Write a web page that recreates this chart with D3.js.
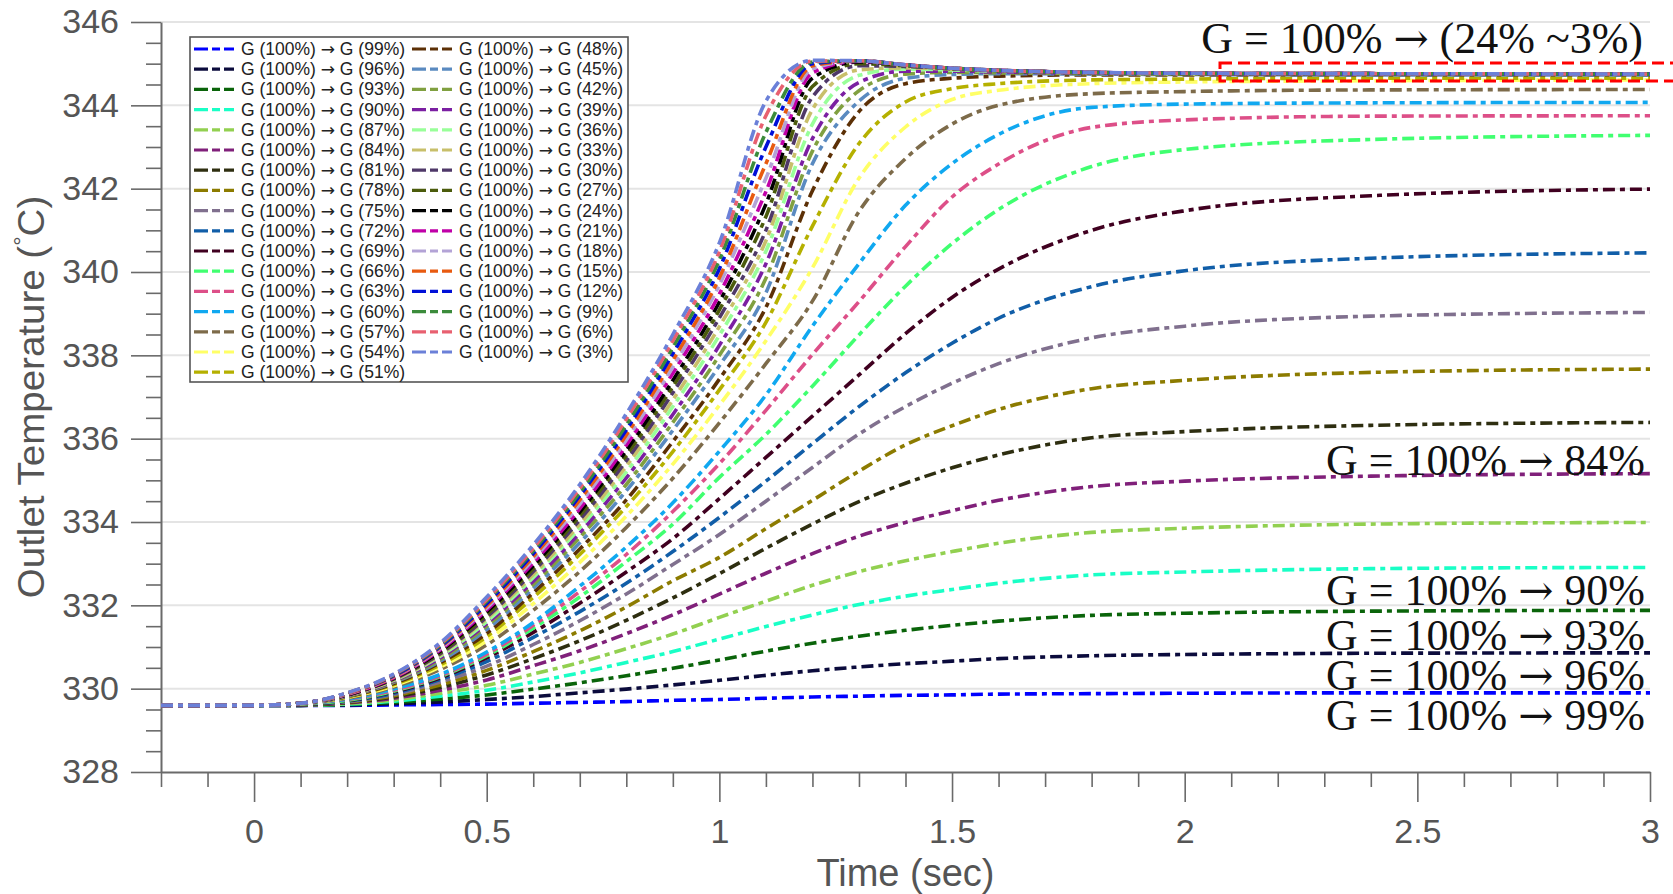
<!DOCTYPE html>
<html>
<head>
<meta charset="utf-8">
<script src="https://cdn.jsdelivr.net/npm/d3@7"></script>
<style>
  html, body { margin: 0; padding: 0; background: #fff; }
  svg { display: block; }
</style>
</head>
<body>
<svg id="chart" width="1673" height="894"></svg>
<script>
// ---- data -------------------------------------------------------------
const time = [-0.2, 0, 0.1, 0.2, 0.3, 0.4, 0.5, 0.6, 0.7, 0.8, 0.9, 1.0, 1.1, 1.2, 1.3, 1.4, 1.5, 1.6, 1.8, 2.0, 2.4, 3.0];

const g99 = [329.6,329.6,329.6,329.6,329.61,329.62,329.63,329.65,329.67,329.69,329.72,329.74,329.77,329.8,329.82,329.84,329.85,329.87,329.88,329.89,329.9,329.9];
const g96 = [329.6,329.6,329.6,329.61,329.64,329.68,329.74,329.81,329.9,329.99,330.09,330.2,330.32,330.43,330.52,330.6,330.66,330.72,330.79,330.82,330.85,330.86];
const g93 = [329.6,329.6,329.6,329.62,329.67,329.75,329.85,329.99,330.14,330.31,330.49,330.69,330.9,331.09,331.26,331.4,331.52,331.62,331.76,331.81,331.86,331.88];
const g90 = [329.6,329.6,329.61,329.63,329.7,329.82,329.96,330.16,330.38,330.63,330.89,331.19,331.49,331.77,332.02,332.22,332.38,332.53,332.73,332.8,332.88,332.91];
const g87 = [329.6,329.6,329.61,329.64,329.73,329.89,330.08,330.35,330.63,330.96,331.31,331.71,332.1,332.48,332.81,333.07,333.29,333.49,333.75,333.85,333.95,333.99];
const g84 = [329.6,329.6,329.61,329.66,329.77,329.96,330.21,330.55,330.91,331.32,331.77,332.27,332.77,333.24,333.66,333.99,334.27,334.52,334.85,334.98,335.1,335.16];
const g81 = [329.6,329.6,329.61,329.67,329.8,330.03,330.33,330.72,331.15,331.64,332.18,332.76,333.37,333.95,334.49,334.93,335.3,335.61,336.02,336.17,336.32,336.39];
const g78 = [329.6,329.6,329.62,329.68,329.83,330.09,330.44,330.89,331.39,331.96,332.59,333.15,333.84,334.52,335.22,335.85,336.31,336.7,337.2,337.4,337.59,337.67];
const g75 = [329.6,329.6,329.62,329.69,329.86,330.16,330.54,331.06,331.63,332.27,332.98,333.7,334.5,335.31,336.11,336.77,337.33,337.8,338.42,338.7,338.94,339.03];
const g72 = [329.6,329.6,329.62,329.7,329.89,330.22,330.65,331.23,331.85,332.53,333.29,334.11,334.98,335.88,336.77,337.58,338.29,338.89,339.65,340.03,340.33,340.46];
const g69 = [329.6,329.6,329.62,329.71,329.92,330.26,330.74,331.35,332.05,332.8,333.6,334.56,335.55,336.54,337.53,338.52,339.39,340.07,341.0,341.47,341.83,341.99];
const g66 = [329.6,329.6,329.63,329.72,329.94,330.29,330.79,331.45,332.2,333.05,333.95,335.07,336.1,337.26,338.49,339.66,340.68,341.5,342.53,342.94,343.18,343.28];
const g63 = [329.6,329.6,329.64,329.74,329.96,330.31,330.83,331.52,332.33,333.22,334.25,335.4,336.68,338.02,339.29,340.61,341.8,342.59,343.47,343.65,343.74,343.75];
const g60 = [329.6,329.6,329.64,329.75,329.99,330.34,330.88,331.59,332.46,333.4,334.46,335.7,337.05,338.7,340.2,341.6,342.6,343.3,343.95,344.03,344.06,344.07];
const g57 = [329.6,329.6,329.64,329.77,330.04,330.46,331.05,331.88,332.81,333.87,335.05,336.38,337.8,339.3,341.45,342.72,343.55,344.0,344.28,344.33,344.37,344.38];
const g54 = [329.6,329.6,329.64,329.79,330.07,330.52,331.15,332.04,333.03,334.14,335.39,336.8,338.35,340.1,342.25,343.48,344.14,344.36,344.52,344.56,344.59,344.61];
const g51 = [329.6,329.6,329.64,329.8,330.1,330.57,331.25,332.19,333.22,334.37,335.69,337.17,338.79,341.1,343.08,344.08,344.4,344.52,344.61,344.63,344.65,344.65];
const g48 = [329.6,329.6,329.64,329.81,330.12,330.62,331.33,332.3,333.35,334.53,335.93,337.43,339.15,341.95,343.85,344.52,344.65,344.7,344.73,344.73,344.73,344.73];
const g45 = [329.6,329.6,329.64,329.82,330.15,330.66,331.42,332.41,333.5,334.75,336.2,337.75,339.5,342.6,344.1,344.65,344.74,344.76,344.75,344.74,344.73,344.73];
const g42 = [329.6,329.6,329.64,329.82,330.16,330.7,331.5,332.5,333.63,334.9,336.39,338.0,339.85,342.9,344.35,344.75,344.79,344.78,344.76,344.75,344.74,344.74];
const g39 = [329.6,329.6,329.64,329.83,330.18,330.74,331.56,332.58,333.74,335.06,336.58,338.24,340.2,343.2,344.55,344.82,344.82,344.8,344.77,344.76,344.75,344.75];
const g36 = [329.6,329.6,329.64,329.84,330.2,330.78,331.61,332.67,333.86,335.2,336.77,338.48,340.5,343.55,344.72,344.87,344.85,344.82,344.78,344.76,344.75,344.75];
const g33 = [329.6,329.6,329.65,329.84,330.21,330.81,331.68,332.74,333.95,335.34,336.93,338.69,340.75,343.9,344.85,344.9,344.87,344.83,344.78,344.76,344.75,344.75];
const g30 = [329.6,329.6,329.65,329.85,330.23,330.84,331.72,332.81,334.05,335.47,337.1,338.9,341.0,344.2,344.95,344.93,344.88,344.83,344.78,344.76,344.75,344.75];
const g27 = [329.6,329.6,329.65,329.85,330.24,330.87,331.78,332.88,334.15,335.6,337.25,339.09,341.33,344.45,345.0,344.95,344.88,344.83,344.78,344.76,344.75,344.75];
const g24 = [329.6,329.6,329.65,329.85,330.25,330.9,331.84,332.95,334.24,335.72,337.4,339.28,341.63,344.65,345.04,344.97,344.89,344.84,344.79,344.77,344.76,344.75];
const g21 = [329.6,329.6,329.65,329.86,330.26,330.93,331.89,333.02,334.32,335.84,337.57,339.47,341.93,344.78,345.06,344.97,344.89,344.84,344.79,344.77,344.76,344.75];
const g18 = [329.6,329.6,329.65,329.87,330.28,330.96,331.94,333.1,334.43,335.97,337.72,339.69,342.25,344.88,345.07,344.97,344.89,344.84,344.79,344.77,344.76,344.75];
const g15 = [329.6,329.6,329.65,329.88,330.29,330.99,331.99,333.17,334.53,336.09,337.88,339.86,342.6,344.95,345.07,344.97,344.89,344.84,344.79,344.77,344.76,344.75];
const g12 = [329.6,329.6,329.65,329.89,330.31,331.01,332.04,333.24,334.63,336.21,338.04,340.08,343.0,345.0,345.07,344.97,344.89,344.84,344.79,344.77,344.76,344.75];
const g9  = [329.6,329.6,329.65,329.89,330.33,331.04,332.1,333.31,334.71,336.33,338.19,340.29,343.35,345.04,345.07,344.97,344.89,344.84,344.79,344.77,344.76,344.75];
const g6  = [329.6,329.6,329.65,329.89,330.34,331.07,332.14,333.37,334.81,336.47,338.35,340.49,343.75,345.06,345.07,344.97,344.89,344.84,344.79,344.77,344.76,344.75];
const g3  = [329.6,329.6,329.65,329.9,330.35,331.1,332.2,333.45,334.9,336.6,338.5,340.7,344.1,345.08,345.07,344.97,344.89,344.84,344.79,344.77,344.76,344.75];

const flowLevels = [99, 96, 93, 90, 87, 84, 81, 78, 75, 72, 69, 66, 63, 60, 57, 54, 51,
                    48, 45, 42, 39, 36, 33, 30, 27, 24, 21, 18, 15, 12, 9, 6, 3];
const seriesValues = [g99, g96, g93, g90, g87, g84, g81, g78, g75, g72, g69, g66, g63, g60, g57, g54, g51,
                      g48, g45, g42, g39, g36, g33, g30, g27, g24, g21, g18, g15, g12, g9, g6, g3];
const seriesColors = ["#0000ff", "#0b0b3c", "#0a640a", "#19ffc6", "#92d050", "#80207a", "#2e2e10", "#8c7b00",
                      "#80708e", "#115ea8", "#400020", "#40ff70", "#dd4f88", "#10a8f0", "#7d6b4a", "#ffff66",
                      "#b5b000", "#5c3006", "#5a8ac0", "#80a040", "#7b1fa2", "#99ff99", "#c8bf6a", "#4f3868",
                      "#4b5b0c", "#000000", "#c000a8", "#b3a3d6", "#e85a10", "#0010d8", "#3b8b3b", "#e86070",
                      "#6b80d8"];

const xMajor = [0, 0.5, 1, 1.5, 2, 2.5, 3];
const yMajor = [328, 330, 332, 334, 336, 338, 340, 342, 344, 346];

// annotation text is split around the arrow so the arrow can use a font that draws it full size
const notes = [
  { pre: "G = 100% ", post: " (24% ~3%)", xEnd: 1643, yBase: 53 },
  { pre: "G = 100% ", post: " 84%", xEnd: 1645, yBase: 475 },
  { pre: "G = 100% ", post: " 90%", xEnd: 1645, yBase: 605 },
  { pre: "G = 100% ", post: " 93%", xEnd: 1645, yBase: 650 },
  { pre: "G = 100% ", post: " 96%", xEnd: 1645, yBase: 690 },
  { pre: "G = 100% ", post: " 99%", xEnd: 1645, yBase: 730 }
];

// ---- scales -----------------------------------------------------------
const x = d3.scaleLinear().domain([-0.2, 3]).range([161, 1650]);
const y = d3.scaleLinear().domain([328, 346]).range([772, 22]);

const xMinor = d3.range(-2, 31).map(i => i / 10).filter(v => !xMajor.some(m => Math.abs(m - v) < 1e-9));
const yMinor = d3.range(328, 346.01, 0.5).filter(v => !yMajor.includes(v));

const svg = d3.select("#chart");
const axisColor = "#6a6a6a";
const sans = "'Liberation Sans', Arial, sans-serif";
const serif = "'Liberation Serif', 'Times New Roman', serif";
const arrowSans = "'DejaVu Sans', sans-serif";
const arrowSerif = "'DejaVu Serif', serif";

// ---- horizontal grid --------------------------------------------------
svg.append("g")
  .selectAll("line")
  .data(yMajor.filter(v => v > 328))
  .join("line")
  .attr("x1", x(-0.2)).attr("x2", x(3))
  .attr("y1", d => y(d)).attr("y2", d => y(d))
  .attr("stroke", "#e4e4e4")
  .attr("stroke-width", 2);

// ---- axes -------------------------------------------------------------
function styleAxis(g) {
  g.selectAll(".domain").attr("stroke", axisColor).attr("stroke-width", 2);
  g.selectAll(".tick line").attr("stroke", axisColor).attr("stroke-width", 1.6);
  g.selectAll(".tick text").attr("fill", "#555").attr("font-family", sans);
}

const xAxisG = svg.append("g").attr("transform", `translate(0,${y(328)})`);
xAxisG.call(d3.axisBottom(x).tickValues(xMinor).tickSize(15).tickFormat(""))
  .call(g => g.select(".domain").remove());
const xAxisMajor = svg.append("g").attr("transform", `translate(0,${y(328)})`)
  .call(d3.axisBottom(x).tickValues(xMajor).tickSize(30).tickSizeOuter(0).tickPadding(17).tickFormat(d3.format("")));
styleAxis(xAxisG); styleAxis(xAxisMajor);
xAxisMajor.selectAll(".tick text").attr("font-size", 34);

const yAxisG = svg.append("g").attr("transform", `translate(${x(-0.2)},0)`);
yAxisG.call(d3.axisLeft(y).tickValues(yMinor).tickSize(15).tickFormat(""))
  .call(g => g.select(".domain").remove());
const yAxisMajor = svg.append("g").attr("transform", `translate(${x(-0.2)},0)`)
  .call(d3.axisLeft(y).tickValues(yMajor).tickSize(30).tickSizeOuter(0).tickPadding(12).tickFormat(d3.format("d")));
styleAxis(yAxisG); styleAxis(yAxisMajor);
yAxisMajor.selectAll(".tick text").attr("font-size", 34);

// axis titles
svg.append("text")
  .attr("x", (x(-0.2) + x(3)) / 2).attr("y", 886)
  .attr("text-anchor", "middle")
  .attr("font-family", sans).attr("font-size", 38).attr("fill", "#555")
  .text("Time (sec)");

const yTitle = svg.append("text")
  .attr("transform", `translate(44,${(y(328) + y(346)) / 2}) rotate(-90) scale(1.07,1)`)
  .attr("text-anchor", "middle")
  .attr("font-family", sans).attr("font-size", 36).attr("fill", "#555");
yTitle.append("tspan").text("Outlet Temperature (");
yTitle.append("tspan").attr("font-size", 22).attr("dy", -14).text("\u00b0");
yTitle.append("tspan").attr("dy", 14).text("C)");

// ---- temperature curves -----------------------------------------------
const line = d3.line()
  .x((d, i) => x(time[i]))
  .y(d => y(d))
  .curve(d3.curveMonotoneX);

svg.append("g")
  .selectAll("path")
  .data(seriesValues)
  .join("path")
  .attr("d", d => line(d))
  .attr("fill", "none")
  .attr("stroke", (d, i) => seriesColors[i])
  .attr("stroke-width", 3.6)
  .attr("stroke-dasharray", "12,5,5,5");

// ---- legend -----------------------------------------------------------
const legend = svg.append("g");
legend.append("rect")
  .attr("x", 190).attr("y", 37).attr("width", 438).attr("height", 345)
  .attr("fill", "#fff").attr("stroke", "#555").attr("stroke-width", 1.6);

const rowsPerCol = 17;
const legendItems = legend.selectAll("g.item")
  .data(flowLevels)
  .join("g")
  .attr("class", "item")
  .attr("transform", (d, i) => {
    const col = Math.floor(i / rowsPerCol), row = i % rowsPerCol;
    return `translate(${194 + col * 218},${49 + row * 20.2})`;
  });
legendItems.append("line")
  .attr("x1", 0).attr("x2", 44).attr("y1", 0).attr("y2", 0)
  .attr("stroke", (d, i) => seriesColors[i])
  .attr("stroke-width", 3.2)
  .attr("stroke-dasharray", "14,4,8,4,10");
const legendText = legendItems.append("text")
  .attr("x", 47).attr("y", 6)
  .attr("font-family", sans).attr("font-size", 17.5).attr("fill", "#222");
legendText.append("tspan").text("G (100%) ");
legendText.append("tspan").attr("font-family", arrowSans).attr("font-size", 17).text("\u2192");
legendText.append("tspan").text(d => ` G (${d}%)`);

// ---- annotations ------------------------------------------------------
const noteText = svg.append("g")
  .selectAll("text")
  .data(notes)
  .join("text")
  .attr("x", d => d.xEnd).attr("y", d => d.yBase)
  .attr("text-anchor", "end")
  .attr("font-family", serif).attr("font-size", 44).attr("fill", "#111");
noteText.append("tspan").text(d => d.pre);
noteText.append("tspan").attr("font-family", arrowSerif).attr("font-size", 42).text("\u2192");
noteText.append("tspan").text(d => d.post);

svg.append("rect")
  .attr("x", 1220).attr("y", 63).attr("width", 480).attr("height", 18)
  .attr("fill", "none").attr("stroke", "#ff0000").attr("stroke-width", 3)
  .attr("stroke-dasharray", "12,6");
</script>
</body>
</html>
